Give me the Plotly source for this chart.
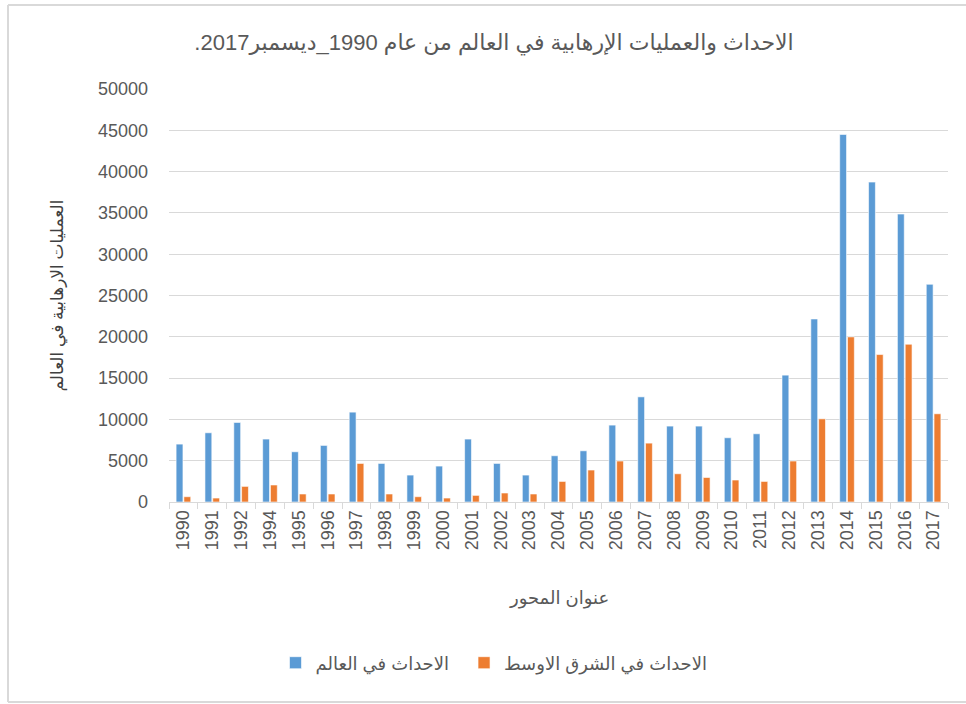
import plotly.graph_objects as go

years = ["1990", "1991", "1992", "1994", "1995", "1996", "1997", "1998", "1999",
         "2000", "2001", "2002", "2003", "2004", "2005", "2006", "2007", "2008",
         "2009", "2010", "2011", "2012", "2013", "2014", "2015", "2016", "2017"]

world = [7010, 8380, 9630, 7620, 6080, 6850, 10880, 4670, 3260,
         4350, 7620, 4670, 3260, 5600, 6200, 9310, 12730, 9190,
         9190, 7780, 8260, 15360, 22160, 44500, 38730, 34860, 26360]

middle_east = [640, 480, 1890, 2060, 970, 970, 4670, 970, 640,
               480, 800, 1090, 970, 2490, 3870, 4960, 7130, 3420,
               2970, 2660, 2490, 4960, 10070, 19990, 17850, 19100, 10680]

y_ticks = [0, 5000, 10000, 15000, 20000, 25000, 30000, 35000, 40000, 45000, 50000]

title_text = "الاحداث والعمليات الإرهابية في العالم من عام 1990_ديسمبر2017." + "\u200f"
y_title = "العمليات الارهابية في العالم"
x_title = "عنوان المحور"
name_world = "الاحداث في العالم"
name_me = "الاحداث في الشرق الاوسط"

FONT = "Liberation Sans, Arial, DejaVu Sans, sans-serif"
GRAY = "#595959"
GRID = "#D9D9D9"

fig = go.Figure()
fig.add_trace(go.Bar(x=years, y=world, name=name_world + "\u00a0\u00a0",
                     marker=dict(color="#5B9BD5", line=dict(color="#FFFFFF", width=0.6))))
fig.add_trace(go.Bar(x=years, y=middle_east, name=name_me,
                     marker=dict(color="#ED7D31", line=dict(color="#FFFFFF", width=0.6))))

L, R, T, B = 169, 18, 89, 202
W, H = 966, 704
pw, ph = W - L - R, H - T - B

def px_x(x):
    return (x - L) / pw

def px_y(y):
    return (H - B - y) / ph

frame = dict(color=GRID, width=2)
border = [
    dict(type="line", xref="paper", yref="paper", x0=px_x(8), x1=px_x(8),
         y0=px_y(702), y1=px_y(5), line=frame, layer="below"),
    dict(type="line", xref="paper", yref="paper", x0=px_x(8), x1=px_x(1000),
         y0=px_y(5), y1=px_y(5), line=frame, layer="below"),
    dict(type="line", xref="paper", yref="paper", x0=px_x(8), x1=px_x(1000),
         y0=px_y(702), y1=px_y(702), line=frame, layer="below"),
]

fig.update_layout(
    width=W, height=H,
    margin=dict(l=L, r=R, t=T, b=B),
    paper_bgcolor="white", plot_bgcolor="white",
    font=dict(family=FONT, color=GRAY, size=18),
    barmode="group", bargap=0.46, bargroupgap=0.12,
    title=dict(text=title_text, x=494 / W, xref="container", xanchor="center",
               y=1 - 42 / H, yref="container", yanchor="middle",
               font=dict(size=22, color=GRAY, family=FONT)),
    showlegend=True,
    legend=dict(orientation="h", x=px_x(494), xanchor="center", y=px_y(663), yanchor="middle",
                font=dict(size=18, color=GRAY, family=FONT), itemwidth=30,
                traceorder="normal", bgcolor="rgba(0,0,0,0)"),
    xaxis=dict(type="category", categoryorder="array", categoryarray=years,
               showline=True, linecolor=GRID, linewidth=1,
               ticks="outside", tickson="boundaries", ticklen=6, tickcolor=GRID,
               tickangle=-90, tickfont=dict(size=18, color=GRAY),
               showgrid=False),
    yaxis=dict(range=[0, 50000], tickvals=y_ticks, ticktext=[str(v) for v in y_ticks],
               showgrid=True, gridcolor=GRID, gridwidth=1, zeroline=False,
               showline=False, ticks="", tickfont=dict(size=18, color=GRAY),
               ticklabelstandoff=20),
    annotations=[
        dict(text=y_title, x=px_x(57), y=0.5, xref="paper", yref="paper",
             xanchor="center", yanchor="middle", textangle=-90, showarrow=False,
             font=dict(size=17, color="#404040", family=FONT)),
        dict(text=x_title, x=0.5, y=px_y(598), xref="paper", yref="paper",
             xanchor="center", yanchor="middle", showarrow=False,
             font=dict(size=18, color=GRAY, family=FONT)),
    ],
    shapes=border,
)

fig.write_html("out.html", config={"displayModeBar": False},
               post_script="document.body.style.margin='0px';document.body.style.overflow='hidden';")
